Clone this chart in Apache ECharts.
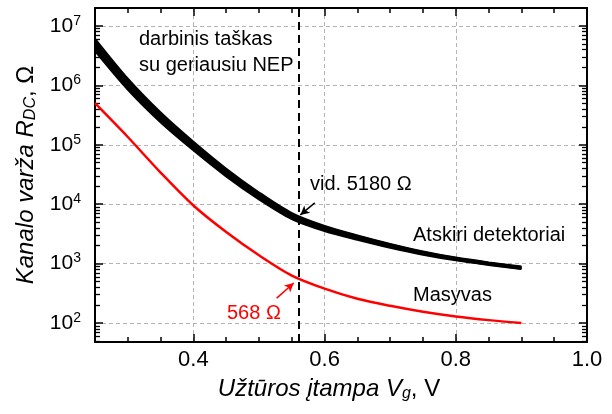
<!DOCTYPE html>
<html>
<head>
<meta charset="utf-8">
<script src="https://cdn.jsdelivr.net/npm/echarts@6/dist/echarts.min.js"></script>
<style>
  html, body { margin: 0; padding: 0; background: #fff; }
  #chart { width: 612px; height: 414px; }
</style>
</head>
<body>
<div id="chart"></div>
<script>
// Užtūros įtampa, V
const gateVoltage = [0.25, 0.30, 0.35, 0.40, 0.45, 0.50, 0.55, 0.60, 0.65, 0.70, 0.75, 0.80, 0.85, 0.90];
// atskiri detektoriai, Ω
const detector1 = [3.8e6, 8.5e5, 2.4e5, 8.1e4, 2.95e4, 1.21e4, 5650, 3550, 2530, 1860, 1420, 1140, 955, 812];
const detector2 = [4.2e6, 9.2e5, 2.58e5, 8.55e4, 3.1e4, 1.27e4, 5860, 3670, 2610, 1920, 1450, 1165, 970, 825];
const detector3 = [4.55e6, 1.0e6, 2.78e5, 9.2e4, 3.3e4, 1.35e4, 6180, 3840, 2710, 1975, 1495, 1190, 993, 845];
const detector4 = [5.05e6, 1.1e6, 3.02e5, 9.85e4, 3.5e4, 1.41e4, 6420, 3960, 2790, 2025, 1525, 1210, 1007, 855];
const detector5 = [5.5e6, 1.19e6, 3.25e5, 1.05e5, 3.74e4, 1.5e4, 6800, 4170, 2915, 2100, 1570, 1240, 1030, 875];
const detector6 = [6.05e6, 1.29e6, 3.48e5, 1.12e5, 3.94e4, 1.57e4, 7060, 4290, 2970, 2140, 1600, 1260, 1045, 888];
// masyvas, Ω
const arrayR = [5.0e5, 1.35e5, 3.4e4, 9.5e3, 3.4e3, 1380, 630, 380, 257, 195, 155, 129, 112, 100];

const xTickLabels = ["0.4", "0.6", "0.8", "1.0"];
const yTickPowers = [2, 3, 4, 5, 6, 7];
const workPoint = 0.56;
const yMin = 48, yMax = 2e7;

const FONT = "Liberation Sans";
const chart = echarts.init(document.getElementById("chart"));

function pairs(ys) {
  return gateVoltage.map((v, i) => [v, ys[i]]);
}

const frameLine = { show: true, lineStyle: { color: "#000", width: 2 } };
const majorTick = { show: true, inside: true, length: 8, lineStyle: { color: "#000", width: 1.5 } };
const minorTick = { show: true, inside: true, length: 5, lineStyle: { color: "#000", width: 1.5 } };
const logMinor = { show: true, splitNumber: 9, length: 5, lineStyle: { color: "#000", width: 1.3 } };
const gridDash = { show: true, lineStyle: { color: "#b4b4b4", width: 1, type: [4, 3] } };

const titleRich = {
  i: { fontSize: 24, fontStyle: "italic", fontFamily: FONT, color: "#000" },
  sub: { fontSize: 16, fontStyle: "italic", fontFamily: FONT, color: "#000", verticalAlign: "bottom", padding: [10, 0, 0, 0] },
  n: { fontSize: 24, fontFamily: FONT, color: "#000" }
};

const blackSeries = [detector1, detector2, detector3, detector4, detector5, detector6].map((d, i) => ({
  name: "Atskiri detektoriai " + (i + 1),
  type: "line",
  data: pairs(d),
  smooth: 0.3,
  symbol: "none",
  lineStyle: { color: "#000", width: 2.2 },
  z: 3
}));

const option = {
  animation: false,
  backgroundColor: "#fff",
  textStyle: { fontFamily: FONT },
  grid: { left: 95, right: 25, top: 8, bottom: 72 },
  xAxis: [
    {
      type: "value",
      min: 0.25,
      max: 1.0,
      splitNumber: 4,
      position: "bottom",
      axisLine: frameLine,
      axisTick: majorTick,
      axisLabel: {
        color: "#000",
        fontSize: 22,
        fontFamily: FONT,
        margin: 7,
        showMinLabel: false,
        formatter: v => {
          const s = v.toFixed(1);
          return xTickLabels.includes(s) && Math.abs(v * 10 - Math.round(v * 10)) < 1e-6 ? s : "";
        }
      },
      splitLine: gridDash,
      name: "{i|Užtūros įtampa V}{sub|g}{n|, V}",
      nameLocation: "middle",
      nameGap: 34,
      nameTextStyle: { padding: [0, 24, 0, 0], rich: titleRich }
    },
    {
      type: "value", min: 0.25, max: 1.0, interval: 0.05, position: "bottom",
      axisLine: { show: false }, axisTick: minorTick, axisLabel: { show: false }, splitLine: { show: false }
    },
    {
      type: "value", min: 0.25, max: 1.0, splitNumber: 4, position: "top",
      axisLine: frameLine, axisTick: majorTick, axisLabel: { show: false }, splitLine: { show: false }
    },
    {
      type: "value", min: 0.25, max: 1.0, interval: 0.05, position: "top",
      axisLine: { show: false }, axisTick: minorTick, axisLabel: { show: false }, splitLine: { show: false }
    }
  ],
  yAxis: [
    {
      type: "log",
      logBase: 10,
      min: yMin,
      max: yMax,
      position: "left",
      axisLine: frameLine,
      axisTick: majorTick,
      minorTick: logMinor,
      axisLabel: {
        margin: 14,
        showMinLabel: false,
        showMaxLabel: false,
        formatter: v => {
          const p = Math.log10(v);
          const r = Math.round(p);
          if (Math.abs(p - r) > 1e-6 || !yTickPowers.includes(r)) return "";
          return "{b|10}{s|" + r + "}";
        },
        rich: {
          b: { fontSize: 21, fontFamily: FONT, color: "#000", lineHeight: 24 },
          s: { fontSize: 14, fontFamily: FONT, color: "#000", verticalAlign: "top", padding: [0, 0, 9, 0] }
        }
      },
      splitLine: gridDash,
      name: "{i|Kanalo varža R}{sub|DC}{n|, Ω}",
      nameLocation: "middle",
      nameRotate: 90,
      nameGap: 50,
      nameTextStyle: { rich: titleRich }
    },
    {
      type: "log",
      logBase: 10,
      min: yMin,
      max: yMax,
      position: "right",
      axisLine: frameLine,
      axisTick: majorTick,
      minorTick: logMinor,
      axisLabel: { show: false },
      splitLine: { show: false }
    }
  ],
  series: [
    ...blackSeries,
    {
      name: "Masyvas",
      type: "line",
      data: pairs(arrayR),
      smooth: 0.3,
      symbol: "none",
      lineStyle: { color: "#ff0000", width: 2.5 },
      z: 4,
      markLine: {
        silent: true,
        animation: false,
        label: { show: false },
        data: [
          [
            { coord: [workPoint, yMin], symbol: "none", lineStyle: { color: "#000", width: 2, type: [8, 5] } },
            { coord: [workPoint, yMax], symbol: "none" }
          ],
          [
            { coord: [0.585, 10500], symbol: "none", lineStyle: { color: "#000", width: 1.5, type: "solid" } },
            { coord: [0.563, 6600], symbol: "arrow", symbolSize: [7, 9] }
          ],
          [
            { coord: [0.527, 263], symbol: "none", lineStyle: { color: "#ff0000", width: 1.5, type: "solid" } },
            { coord: [0.553, 471], symbol: "arrow", symbolSize: [7, 9] }
          ]
        ]
      }
    }
  ],
  graphic: [
    { type: "text", left: 139, top: 26, style: { text: "darbinis taškas\nsu geriausiu NEP", font: "20px " + FONT, fill: "#000", lineHeight: 26 } },
    { type: "text", left: 310, top: 174, style: { text: "vid. 5180 Ω", font: "20px " + FONT, fill: "#000" } },
    { type: "text", left: 413, top: 225, style: { text: "Atskiri detektoriai", font: "20px " + FONT, fill: "#000" } },
    { type: "text", left: 413, top: 285, style: { text: "Masyvas", font: "20px " + FONT, fill: "#000" } },
    { type: "text", left: 227, top: 303, style: { text: "568 Ω", font: "20px " + FONT, fill: "#ff0000" } }
  ]
};

chart.setOption(option);
</script>
</body>
</html>
